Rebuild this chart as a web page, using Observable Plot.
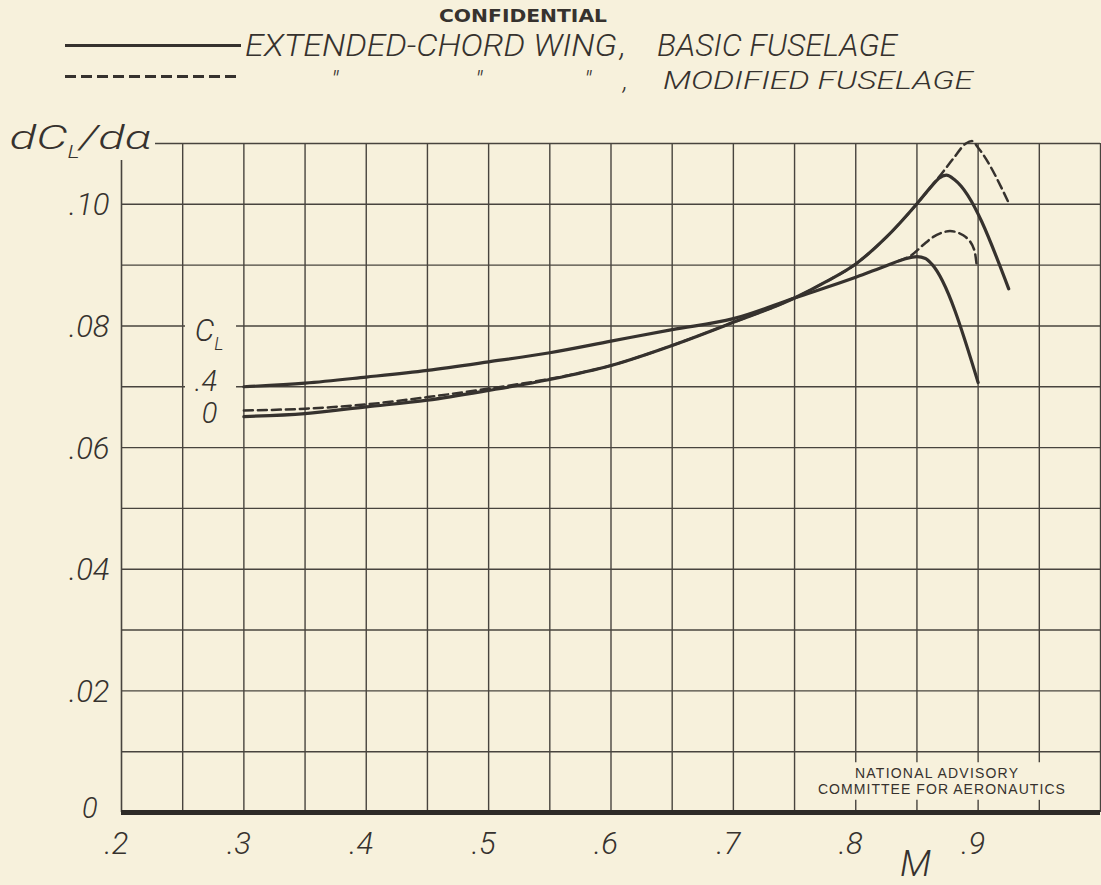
<!DOCTYPE html>
<html>
<head>
<meta charset="utf-8">
<script src="https://cdn.jsdelivr.net/npm/d3@7"></script>
<script src="https://cdn.jsdelivr.net/npm/@observablehq/plot@0.6"></script>
<style>
  html, body { margin: 0; padding: 0; background: #f7f1dc; }
  #wrap { position: relative; width: 1101px; height: 885px; overflow: hidden; background: #f7f1dc; }
  #header { position: relative; width: 1101px; height: 100px; }
  .t { position: absolute; white-space: nowrap; line-height: normal; transform-origin: 0 0; color: #36322e; }
  .mk { display: inline-block; width: 0; height: 0; vertical-align: baseline; }
  .hand { font-family: Roboto, "DejaVu Sans", sans-serif; font-style: italic; font-weight: 300; }
  .caps { font-family: "Liberation Sans Narrow", "DejaVu Sans Condensed", Roboto, sans-serif; font-weight: bold; }
  .solid { position: absolute; height: 2.5px; background: #36322e; }
  .dashed { position: absolute; height: 2.5px;
    background: repeating-linear-gradient(to right, #36322e 0 11px, transparent 11px 16px); }
  #chart svg { display: block; }
</style>
</head>
<body>
<div id="wrap">
  <div id="header"></div>
  <div id="chart"></div>
</div>
<script>
// ---------------- data ----------------
// C_L = 0.4, basic fuselage (solid)
const machBasic04 = [0.30, 0.35, 0.40, 0.45, 0.50, 0.55, 0.60, 0.65, 0.70, 0.75, 0.80, 0.825, 0.840, 0.850, 0.857, 0.862, 0.900];
const slopeBasic04 = [0.0700, 0.0706, 0.0716, 0.0727, 0.0741, 0.0756, 0.0775, 0.0794, 0.0812, 0.0846, 0.0880, 0.0899, 0.0910, 0.0914, 0.0911, 0.0902, 0.0707];
// C_L = 0, basic fuselage (solid)
const machBasic0 = [0.30, 0.35, 0.40, 0.45, 0.50, 0.55, 0.60, 0.65, 0.70, 0.75, 0.775, 0.80, 0.825, 0.85, 0.862, 0.868, 0.874, 0.881, 0.925];
const slopeBasic0 = [0.0651, 0.0656, 0.0667, 0.0678, 0.0694, 0.0712, 0.0735, 0.0768, 0.0806, 0.0846, 0.0872, 0.0902, 0.0946, 0.1001, 0.1030, 0.1043, 0.1048, 0.1040, 0.0861];
// C_L = 0, modified fuselage (dashed)
const machMod0 = [0.30, 0.35, 0.40, 0.45, 0.50, 0.55, 0.60, 0.65, 0.70, 0.75, 0.775, 0.80, 0.825, 0.85, 0.862, 0.870, 0.880, 0.890, 0.895, 0.900, 0.926];
const slopeMod0 = [0.0661, 0.0664, 0.0671, 0.0683, 0.0697, 0.0713, 0.0735, 0.0768, 0.0806, 0.0846, 0.0872, 0.0902, 0.0946, 0.1001, 0.1030, 0.1050, 0.1076, 0.1100, 0.1104, 0.1093, 0.0998];
// C_L = 0.4, modified fuselage (dashed, where it leaves the solid curve)
const machMod04 = [0.835, 0.846, 0.855, 0.863, 0.870, 0.877, 0.884, 0.890, 0.897, 0.899];
const slopeMod04 = [0.0907, 0.0917, 0.0933, 0.0946, 0.0953, 0.0956, 0.0953, 0.0946, 0.0924, 0.0897];

// ticks / labels
const xTicks = [0.2, 0.3, 0.4, 0.5, 0.6, 0.7, 0.8, 0.9];
const xTickLabels = [".2", ".3", ".4", ".5", ".6", ".7", ".8", ".9"];
const yTicks = [0.10, 0.08, 0.06, 0.04, 0.02];
const yTickLabels = [".10", ".08", ".06", ".04", ".02"];
const gridXFull = [0.25, 0.30, 0.35, 0.40, 0.45, 0.50, 0.55, 0.60, 0.65, 0.70, 0.75, 1.00];
const gridXBroken = [0.80, 0.85, 0.90, 0.95];
const gridYFull = [0.01, 0.02, 0.03, 0.04, 0.05, 0.06, 0.09, 0.10];
const gridYBroken = [0.07, 0.08];

const legendLabels = ["EXTENDED-CHORD WING", "BASIC FUSELAGE", "MODIFIED FUSELAGE"];
const headerTitle = "CONFIDENTIAL";
const naca = ["NATIONAL ADVISORY", "COMMITTEE FOR AERONAUTICS"];

// ---------------- header (title + legend) ----------------
const ink = "#36322e";
const header = document.getElementById("header");
function addText(txt, cls, left, baseline, size, w) {
  const s = document.createElement("span");
  s.className = "t " + cls;
  s.style.left = left + "px";
  s.style.top = "0px";
  s.style.fontSize = size + "px";
  s.appendChild(document.createTextNode(txt));
  const mk = document.createElement("span");
  mk.className = "mk";
  s.appendChild(mk);
  header.appendChild(s);
  const off = mk.getBoundingClientRect().top - s.getBoundingClientRect().top;
  s.style.top = (baseline - off) + "px";
  if (w) {
    const mw = s.getBoundingClientRect().width;
    s.style.transform = `scaleX(${w / mw})`;
  }
  return s;
}
function addBar(cls, left, top, w) {
  const d = document.createElement("div");
  d.className = cls;
  d.style.left = left + "px";
  d.style.top = top + "px";
  d.style.width = w + "px";
  header.appendChild(d);
}
addText(headerTitle, "caps", 439, 22, 18, 168);
addBar("solid", 65, 44, 176);
addText(legendLabels[0], "hand", 245, 56, 31, 372);
addText(",", "hand", 620, 56, 31);
addText(legendLabels[1], "hand", 657, 56, 31, 240);
addBar("dashed", 65, 75, 172);
addText("\"", "hand", 331, 89, 26);
addText("\"", "hand", 475, 89, 26);
addText("\"", "hand", 584, 89, 26);
addText(",", "hand", 623, 89, 26);
addText(legendLabels[2], "hand", 663, 89, 26, 310);

// ---------------- chart ----------------
const toRows = (ms, vs) => ms.map((m, i) => ({M: m, v: vs[i]}));
const basic04 = toRows(machBasic04, slopeBasic04);
const basic0 = toRows(machBasic0, slopeBasic0);
const mod0 = toRows(machMod0, slopeMod0);
const mod04 = toRows(machMod04, slopeMod04);

const gridColor = "#48443e";
const handFont = "Roboto, 'DejaVu Sans', sans-serif";
const handText = {fill: ink, fontFamily: handFont, fontStyle: "italic", fontWeight: 300, lineAnchor: "bottom"};

const plot = Plot.plot({
  width: 1101,
  height: 785,
  marginTop: 43,
  marginBottom: 73,
  marginLeft: 121,
  marginRight: 1,
  style: {background: "transparent", overflow: "visible"},
  x: {domain: [0.2, 1.0], axis: null},
  y: {domain: [0, 0.11], axis: null},
  marks: [
    // vertical grid
    Plot.ruleX(gridXFull, {x: d => d, y1: 0, y2: 0.11, stroke: gridColor, strokeWidth: 1.4}),
    Plot.ruleX(gridXBroken, {x: d => d, y1: 0, y2: 0.002, stroke: gridColor, strokeWidth: 1.4}),
    Plot.ruleX(gridXBroken, {x: d => d, y1: 0.0082, y2: 0.11, stroke: gridColor, strokeWidth: 1.4}),
    Plot.ruleX([0.2], {x: d => d, y1: 0, y2: 0.1072, stroke: gridColor, strokeWidth: 1.6}),
    // horizontal grid
    Plot.ruleY(gridYFull, {y: d => d, x1: 0.2, x2: 1.0, stroke: gridColor, strokeWidth: 1.4}),
    Plot.ruleY(gridYBroken, {y: d => d, x1: 0.2, x2: 0.2523, stroke: gridColor, strokeWidth: 1.4}),
    Plot.ruleY(gridYBroken, {y: d => d, x1: 0.294, x2: 1.0, stroke: gridColor, strokeWidth: 1.4}),
    Plot.ruleY([0.11], {y: d => d, x1: 0.2278, x2: 1.0, stroke: gridColor, strokeWidth: 1.6}),
    // thick M axis
    Plot.ruleY([0], {y: d => d, x1: 0.2, x2: 1.0, stroke: "#2e2b27", strokeWidth: 5}),

    // curves
    Plot.line(basic04, {x: "M", y: "v", curve: "monotone-x", stroke: ink, strokeWidth: 3.2}),
    Plot.line(basic0, {x: "M", y: "v", curve: "monotone-x", stroke: ink, strokeWidth: 3.2}),
    Plot.line(mod0, {x: "M", y: "v", curve: "monotone-x", stroke: ink, strokeWidth: 2.5, strokeDasharray: "9,5"}),
    Plot.line(mod04, {x: "M", y: "v", curve: "monotone-x", stroke: ink, strokeWidth: 2.5, strokeDasharray: "9,5"}),

    // y tick labels
    Plot.text(yTicks, {x: 0.2, y: d => d, text: (d, i) => yTickLabels[i], textAnchor: "end", dx: -12, dy: 11, fontSize: 31, ...handText}),
    Plot.text([0], {x: 0.2, y: d => d, text: ["0"], textAnchor: "end", dx: -24, dy: 5, fontSize: 29, ...handText}),
    // x tick labels
    Plot.text(xTicks, {x: d => d, y: 0, text: (d, i) => xTickLabels[i], textAnchor: "middle", dx: -5, dy: 41, fontSize: 31, ...handText}),
    Plot.text(["M"], {x: 0.8488, y: 0, text: d => d, textAnchor: "middle", dy: 63, fontSize: 37, ...handText}),

    // axis title dC_L/dα (subscript added below)
    Plot.text(["dC_L/dα"], {x: 0.2, y: 0.11, text: d => d, textAnchor: "start", dx: -112, dy: 5, fontSize: 34, ...handText}),

    // C_L curve labels (subscript added below)
    Plot.text(["C_L"], {x: 0.25, y: 0.08, text: d => d, textAnchor: "start", dx: 12, dy: 15, fontSize: 31, ...handText}),
    Plot.text([".4"], {x: 0.25, y: 0.07, text: d => d, textAnchor: "start", dx: 12, dy: 4, fontSize: 29, ...handText}),
    Plot.text(["0"], {x: 0.25, y: 0.07, text: d => d, textAnchor: "start", dx: 19, dy: 36, fontSize: 29, ...handText}),

    // NACA stamp
    Plot.text([naca[0]], {x: 0.866, y: 0, text: d => d, textAnchor: "middle", lineAnchor: "bottom", dy: -35, fontSize: 14, fill: ink, fontFamily: "'Liberation Sans', 'DejaVu Sans', sans-serif"}),
    Plot.text([naca[1]], {x: 0.870, y: 0, text: d => d, textAnchor: "middle", lineAnchor: "bottom", dy: -19, fontSize: 14, fill: ink, fontFamily: "'Liberation Sans', 'DejaVu Sans', sans-serif"})
  ]
});

// fit some lettering widths to the original
const fitWidths = {
  "NATIONAL ADVISORY": [163, "spacing"],
  "COMMITTEE FOR AERONAUTICS": [247, "spacing"]
};
// subscript pieces: [text, fontSize, dy(px), textLength]
const subscripts = {
  "dC_L/dα": [["dC", 34, 0, 58], ["L", 19, 9, 12], ["/dα", 34, -9, 72]],
  "C_L": [["C", 31, 0, null], ["L", 18, 9, null]]
};
d3.select(plot).selectAll("text").each(function () {
  const txt = this.textContent;
  const f = fitWidths[txt];
  if (f) {
    this.setAttribute("textLength", f[0]);
    this.setAttribute("lengthAdjust", f[1]);
  }
  const parts = subscripts[txt];
  if (parts) {
    const el = d3.select(this);
    el.text("");
    parts.forEach(([t, fs, dy, tl]) => {
      const ts = el.append("tspan").text(t).attr("font-size", fs).attr("dy", dy);
      if (tl) ts.attr("textLength", tl).attr("lengthAdjust", "spacingAndGlyphs");
    });
  }
});
document.getElementById("chart").appendChild(plot);
</script>
</body>
</html>
